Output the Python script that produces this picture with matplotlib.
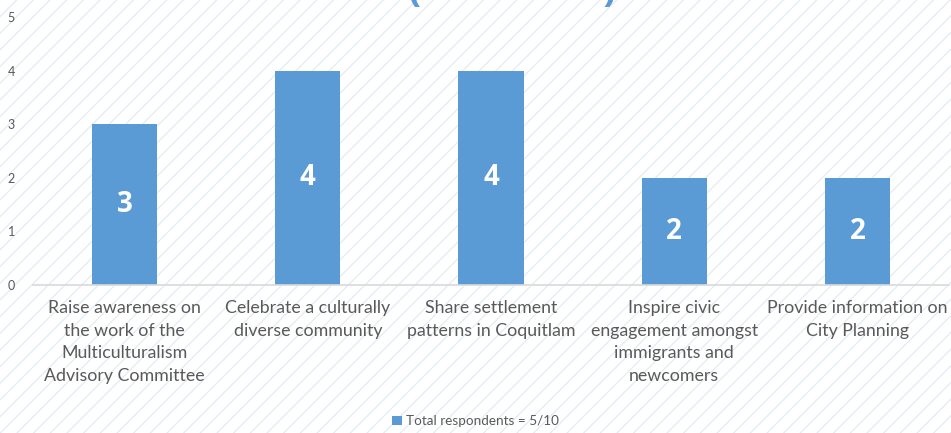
import matplotlib
matplotlib.use('Agg')
import matplotlib.pyplot as plt
from matplotlib.patches import Rectangle

# ---- data ----
categories = [
    'Raise awareness on\nthe work of the\nMulticulturalism\nAdvisory Committee',
    'Celebrate a culturally\ndiverse community',
    'Share settlement\npatterns in Coquitlam',
    'Inspire civic\nengagement amongst\nimmigrants and\nnewcomers',
    'Provide information on\nCity Planning',
]
values = [3, 4, 4, 2, 2]
series_name = 'Total respondents = 5/10'

BLUE = '#5B9BD5'
GREY = '#595959'
plt.rcParams['font.family'] = ['Lato', 'DejaVu Sans']

fig = plt.figure(figsize=(9.51, 4.33), dpi=100)
fig.patch.set_facecolor('white')

# hatched background
plt.rcParams['hatch.linewidth'] = 0.9
bg = Rectangle((0, 0), 1, 1, transform=fig.transFigure, facecolor='white',
               edgecolor='#E4ECF1', hatch='//', linewidth=0, zorder=-10)
fig.patches.append(bg)

ax = fig.add_axes([33/951, 1 - 285/433, 916/951, (285 - 17)/433])
ax.patch.set_alpha(0)

x = list(range(len(categories)))
bars = ax.bar(x, values, width=0.355, color=BLUE, label=series_name, zorder=2)

for xi, v in zip(x, values):
    ax.text(xi, v / 2, str(v), ha='center', va='center', color='white',
            fontsize=20, fontweight='bold', family=['Open Sans', 'DejaVu Sans'])

ax.set_xlim(-0.5, len(categories) - 0.5)
ax.set_ylim(0, 5)
ax.set_yticks(range(0, 6))
ax.set_xticks(x)
ax.set_xticklabels(categories, fontsize=12.8, color=GREY, linespacing=1.5, va='top')
ax.tick_params(axis='x', length=0, pad=11)
ax.tick_params(axis='y', length=0, labelsize=9, labelcolor=GREY, pad=13)
for s in ['top', 'right', 'left']:
    ax.spines[s].set_visible(False)
ax.spines['bottom'].set_color('#D9D9D9')
ax.spines['bottom'].set_linewidth(1.2)

# cut-off chart title at the very top
fig.text(512/951, 1.0, '(                  )', ha='center', va='baseline',
         fontsize=28, fontweight='bold', color=BLUE,
         family=['Open Sans', 'DejaVu Sans'])

fig.legend(handles=[bars], labels=[series_name], loc='center',
           bbox_to_anchor=(0.5, 1 - 421/433), frameon=False, fontsize=9.7,
           handlelength=0.7, handleheight=0.7, handletextpad=0.3,
           labelcolor=GREY)

fig.savefig('out.png', dpi=100, facecolor='white')
